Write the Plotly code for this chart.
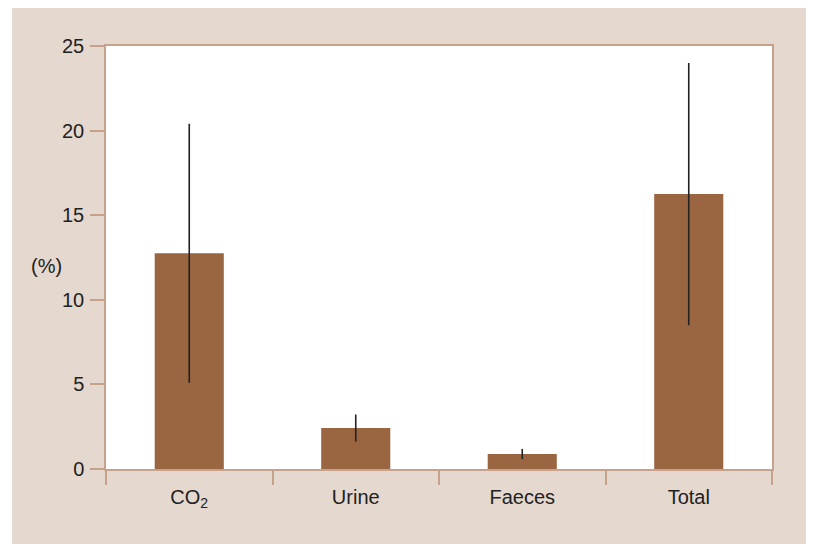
import plotly.graph_objects as go

categories = ["CO<sub>2</sub>", "Urine", "Faeces", "Total"]
values = [12.75, 2.42, 0.89, 16.25]
errors = [7.65, 0.8, 0.3, 7.75]
y_ticks = [0, 5, 10, 15, 20, 25]

BEIGE = "#e4d8cf"
LINE = "#c6a28c"
BAR = "#9a6541"
TXT = "#222222"

fig = go.Figure()
fig.add_trace(go.Bar(
    x=categories, y=values, width=0.415,
    marker=dict(color=BAR, line=dict(width=0)),
    error_y=dict(type="data", array=errors, visible=True, color=TXT, thickness=1.6, width=0),
))

fig.update_layout(
    width=806, height=536,
    margin=dict(l=98, r=42, t=38, b=75),
    paper_bgcolor="white", plot_bgcolor="white",
    showlegend=False,
    font=dict(family="Liberation Sans, Arial, sans-serif", size=20, color=TXT),
    shapes=[
        dict(type="rect", xref="paper", yref="paper", x0=-0.1411, x1=1.2, y0=-0.25, y1=1.12,
             fillcolor=BEIGE, line=dict(width=0), layer="below"),
        dict(type="rect", xref="paper", yref="paper", x0=0, x1=1, y0=0, y1=1,
             fillcolor="white", line=dict(width=0), layer="below"),
    ],
    annotations=[
        dict(text="(%)", xref="paper", yref="paper", x=(46 - 106) / 666, y=(469 - 266) / 423,
             xanchor="center", yanchor="middle", showarrow=False, font=dict(size=20, color=TXT)),
    ],
)
fig.update_xaxes(
    type="category", tickson="boundaries", ticks="outside", ticklen=14, tickcolor=LINE, tickwidth=1.5,
    showline=True, linecolor=LINE, linewidth=1.5, mirror=True, showgrid=False, zeroline=False,
    tickfont=dict(size=20, color=TXT), ticklabelstandoff=9,
)
fig.update_yaxes(
    range=[0, 25], tickvals=y_ticks, ticks="outside", ticklen=14, tickcolor=LINE, tickwidth=1.5,
    showline=True, linecolor=LINE, linewidth=1.5, mirror=True, showgrid=False, zeroline=False,
    tickfont=dict(size=20, color=TXT), ticklabelstandoff=2,
)

fig.write_html("out.html")
